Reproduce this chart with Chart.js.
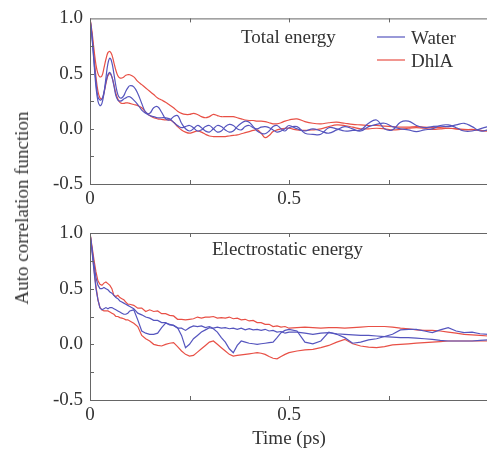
<!DOCTYPE html>
<html>
<head>
<meta charset="utf-8">
<script src="https://cdn.jsdelivr.net/npm/chart.js@4.4.0/dist/chart.umd.min.js"></script>
<style>
html, body { margin: 0; padding: 0; background: #fff; overflow: hidden; }
#wrap { position: relative; width: 487px; height: 454px; overflow: hidden; }
#wrap canvas { position: absolute; left: 0; }
#topChart { top: 0; }
#bottomChart { top: 208px; }
#ytitle {
    position: absolute; left: 22px; top: 208px;
    transform: translate(-50%, -50%) rotate(-90deg);
    font: 19px "Liberation Serif", serif; color: #333; white-space: nowrap;
}
</style>
</head>
<body>
<div id="wrap">
    <canvas id="topChart" width="492" height="208"></canvas>
    <canvas id="bottomChart" width="492" height="246"></canvas>
    <div id="ytitle">Auto correlation function</div>
</div>
<script>
// time axis (ps)
const time = [0, 0.005, 0.01, 0.015, 0.02, 0.025, 0.03, 0.035, 0.04, 0.045, 0.05, 0.055, 0.06, 0.065, 0.07, 0.075, 0.08, 0.085, 0.09, 0.095, 0.1,
    0.11, 0.12, 0.13, 0.14, 0.15, 0.16, 0.17, 0.18, 0.19, 0.2, 0.21, 0.22, 0.23, 0.24, 0.25, 0.26, 0.27, 0.28, 0.29, 0.3,
    0.31, 0.32, 0.33, 0.34, 0.35, 0.36, 0.37, 0.38, 0.39, 0.4, 0.41, 0.42, 0.43, 0.44, 0.45, 0.46, 0.47, 0.48, 0.49, 0.5,
    0.52, 0.54, 0.56, 0.58, 0.6, 0.62, 0.64, 0.66, 0.68, 0.7, 0.72, 0.74, 0.76, 0.78, 0.8, 0.82, 0.84, 0.86, 0.88, 0.9, 0.92, 0.94, 0.96, 0.98, 1.0];

// Total energy panel
const totalWater1 = [1.0, 0.83, 0.60, 0.38, 0.25, 0.21, 0.23, 0.32, 0.46, 0.59, 0.64, 0.60, 0.50, 0.39, 0.31, 0.28, 0.28, 0.30, 0.34, 0.37, 0.39,
    0.38, 0.32, 0.23, 0.15, 0.14, 0.19, 0.20, 0.15, 0.09, 0.08, 0.11, 0.12, 0.05, 0.0, -0.02, 0.0, 0.03, 0.01, -0.02, -0.03,
    0.0, 0.03, 0.02, -0.01, -0.03, -0.02, 0.02, 0.05, 0.07, 0.06, 0.02, -0.02, -0.04, -0.045, -0.02, 0.02, 0.03, 0.0, -0.02, 0.01,
    0.02, -0.04, -0.05, -0.05, 0.01, 0.0, -0.02, -0.015, -0.01, 0.05, 0.08, 0.0, -0.01, 0.06, 0.07, 0.03, 0.01, 0.02, 0.025, 0.02, 0.035, 0.05, 0.02, -0.02, -0.01];
const totalWater2 = [1.0, 0.84, 0.62, 0.42, 0.29, 0.26, 0.27, 0.33, 0.42, 0.49, 0.51, 0.47, 0.39, 0.30, 0.26, 0.25, 0.255, 0.27, 0.28, 0.29, 0.29,
    0.26, 0.22, 0.17, 0.14, 0.12, 0.11, 0.10, 0.10, 0.10, 0.09, 0.06, 0.03, 0.01, 0.02, 0.03, 0.01, -0.02, -0.01, 0.02, 0.03,
    0.0, -0.03, -0.02, 0.02, 0.04, 0.03, 0.0, -0.01, 0.02, 0.03, 0.01, 0.0, 0.015, 0.02, 0.01, -0.01, -0.03, -0.02, 0.0, 0.03,
    0.0, -0.02, 0.0, -0.02, -0.04, -0.01, 0.02, 0.0, -0.02, 0.02, 0.04, 0.05, 0.02, 0.0, -0.01, -0.025, -0.01, 0.0, 0.03, 0.035, 0.01, -0.02, -0.02, 0.0, 0.02];
const totalDhla1 = [1.0, 0.88, 0.72, 0.58, 0.50, 0.47, 0.48, 0.55, 0.63, 0.69, 0.70, 0.67, 0.60, 0.53, 0.48, 0.46, 0.46, 0.47, 0.485, 0.49, 0.49,
    0.47, 0.43, 0.40, 0.37, 0.34, 0.31, 0.28, 0.26, 0.24, 0.215, 0.19, 0.16, 0.14, 0.13, 0.13, 0.14, 0.13, 0.11, 0.10, 0.11,
    0.13, 0.12, 0.11, 0.11, 0.11, 0.11, 0.10, 0.09, 0.08, 0.075, 0.075, 0.07, 0.07, 0.065, 0.055, 0.045, 0.045, 0.055, 0.07, 0.08,
    0.09, 0.065, 0.05, 0.045, 0.055, 0.06, 0.05, 0.04, 0.035, 0.03, 0.03, 0.025, 0.02, 0.015, 0.015, 0.02, 0.015, 0.01, 0.01, 0.005, 0.0, -0.005, -0.01, -0.015, -0.02];
const totalDhla2 = [1.0, 0.85, 0.66, 0.47, 0.34, 0.28, 0.27, 0.32, 0.41, 0.48, 0.50, 0.47, 0.40, 0.32, 0.27, 0.24, 0.23, 0.23, 0.235, 0.235, 0.23,
    0.22, 0.21, 0.19, 0.15, 0.12, 0.10, 0.09, 0.085, 0.08, 0.08, 0.06, 0.02, -0.01, -0.03, -0.04, -0.03, -0.02, -0.03, -0.05, -0.065,
    -0.07, -0.07, -0.07, -0.07, -0.065, -0.06, -0.055, -0.045, -0.035, -0.025, -0.015, -0.01, -0.04, -0.08, -0.06, -0.025, -0.01, 0.0, 0.005, 0.005,
    -0.01, -0.015, -0.01, 0.0, 0.02, 0.035, 0.03, 0.015, 0.0, 0.0, 0.005, 0.0, -0.01, -0.005, 0.005, 0.01, 0.005, -0.005, 0.0, 0.005, 0.0, -0.01, -0.005, -0.015, -0.02];

// Electrostatic energy panel
const elecWater1 = [1.0, 0.86, 0.72, 0.60, 0.53, 0.50, 0.50, 0.51, 0.50, 0.49, 0.47, 0.46, 0.44, 0.42, 0.41, 0.39, 0.38, 0.37, 0.36, 0.35, 0.34,
    0.32, 0.28, 0.265, 0.245, 0.235, 0.215, 0.215, 0.195, 0.195, 0.175, 0.17, 0.145, 0.145, 0.125, 0.15, 0.165, 0.16, 0.165, 0.15, 0.16,
    0.145, 0.155, 0.145, 0.15, 0.14, 0.145, 0.135, 0.145, 0.13, 0.14, 0.13, 0.135, 0.125, 0.135, 0.12, 0.125, 0.11, 0.115, 0.10, 0.11,
    0.11, 0.10, 0.09, 0.10, 0.105, 0.095, 0.09, 0.085, 0.08, 0.08, 0.075, 0.07, 0.065, 0.06, 0.06, 0.055, 0.05, 0.045, 0.035, 0.03, 0.03, 0.03, 0.03, 0.035, 0.04];
const elecWater2 = [1.0, 0.84, 0.66, 0.50, 0.40, 0.33, 0.31, 0.32, 0.33, 0.32, 0.33, 0.33, 0.32, 0.31, 0.30, 0.29, 0.28, 0.27, 0.27, 0.28, 0.30,
    0.31, 0.22, 0.12, 0.10, 0.09, 0.09, 0.10, 0.15, 0.19, 0.18, 0.17, 0.15, 0.08, -0.03, 0.0, 0.05, 0.08, 0.11, 0.13, 0.15,
    0.14, 0.11, 0.06, 0.02, -0.04, -0.075, -0.01, 0.03, 0.02, 0.01, 0.005, 0.0, 0.005, 0.01, 0.015, 0.02, 0.06, 0.105, 0.125, 0.135,
    0.12, 0.02, 0.005, 0.03, 0.11, 0.09, 0.06, 0.01, 0.02, 0.04, 0.05, 0.07, 0.09, 0.13, 0.135, 0.135, 0.12, 0.105, 0.13, 0.15, 0.12, 0.105, 0.11, 0.095, 0.09];
const elecDhla1 = [1.0, 0.88, 0.76, 0.65, 0.57, 0.54, 0.53, 0.55, 0.56, 0.545, 0.53, 0.50, 0.44, 0.43, 0.44, 0.42, 0.41, 0.40, 0.38, 0.36, 0.36,
    0.35, 0.325, 0.325, 0.295, 0.31, 0.295, 0.30, 0.275, 0.275, 0.26, 0.255, 0.225, 0.225, 0.22, 0.225, 0.23, 0.245, 0.235, 0.245, 0.245,
    0.25, 0.235, 0.24, 0.235, 0.245, 0.23, 0.235, 0.22, 0.225, 0.21, 0.215, 0.195, 0.195, 0.18, 0.18, 0.16, 0.165, 0.155, 0.16, 0.145,
    0.15, 0.155, 0.15, 0.145, 0.15, 0.15, 0.145, 0.15, 0.155, 0.16, 0.16, 0.16, 0.155, 0.145, 0.14, 0.13, 0.125, 0.125, 0.12, 0.11, 0.10, 0.09, 0.085, 0.08, 0.075];
const elecDhla2 = [1.0, 0.85, 0.68, 0.52, 0.40, 0.33, 0.31, 0.30, 0.30, 0.30, 0.29, 0.28, 0.27, 0.25, 0.25, 0.24, 0.235, 0.23, 0.22, 0.22, 0.21,
    0.19, 0.16, 0.08, 0.05, 0.03, 0.0, -0.01, -0.015, 0.0, 0.01, 0.015, -0.02, -0.06, -0.09, -0.105, -0.10, -0.07, -0.04, -0.01, 0.02,
    0.03, 0.0, -0.03, -0.06, -0.09, -0.105, -0.10, -0.095, -0.09, -0.085, -0.08, -0.075, -0.08, -0.09, -0.11, -0.125, -0.13, -0.11, -0.09, -0.075,
    -0.06, -0.05, -0.045, -0.03, -0.01, 0.02, 0.045, 0.005, -0.015, -0.025, -0.03, -0.02, -0.005, 0.0, 0.005, 0.01, 0.015, 0.02, 0.025, 0.03, 0.03, 0.03, 0.03, 0.03, 0.03];

const xTickMarks = [0.25, 0.5, 0.75];
const yTickMarks = [-0.25, 0, 0.25, 0.5, 0.75];
const xLabels = { 0: '0', 0.5: '0.5' };
const legendNames = ['Water', 'DhlA'];

const BLUE = 'rgb(85, 85, 190)';
const RED = 'rgb(232, 80, 70)';
const TEXT = '#333';
const FONT = '"Liberation Serif", serif';

function toPoints(values) {
    return values.map((v, i) => ({ x: time[i], y: v }));
}

// frame, inward tick marks, panel label and legend
const decoPlugin = {
    id: 'deco',
    afterDatasetsDraw(chart, args, opts) {
        const { ctx, chartArea: a, scales: { x, y } } = chart;
        ctx.save();
        ctx.strokeStyle = '#666';
        ctx.lineWidth = 1;
        ctx.strokeRect(a.left + 0.5, a.top + 0.5, a.right - a.left, a.bottom - a.top);
        ctx.beginPath();
        xTickMarks.forEach(v => {
            const px = Math.round(x.getPixelForValue(v)) + 0.5;
            ctx.moveTo(px, a.bottom); ctx.lineTo(px, a.bottom - 4);
            ctx.moveTo(px, a.top); ctx.lineTo(px, a.top + 4);
        });
        yTickMarks.forEach(v => {
            const py = Math.round(y.getPixelForValue(v)) + 0.5;
            ctx.moveTo(a.left, py); ctx.lineTo(a.left + 4, py);
        });
        ctx.stroke();

        ctx.fillStyle = TEXT;
        ctx.font = '19px ' + FONT;
        ctx.textBaseline = 'alphabetic';
        ctx.fillText(opts.label, opts.labelX, opts.labelY);

        if (opts.legend) {
            [BLUE, RED].forEach((c, i) => {
                const ly = 37 + i * 23;
                ctx.strokeStyle = c;
                ctx.lineWidth = 1.2;
                ctx.beginPath();
                ctx.moveTo(377, ly); ctx.lineTo(405, ly);
                ctx.stroke();
                ctx.fillText(legendNames[i], 411, ly + 7);
            });
        }
        ctx.restore();
    }
};

function makeChart(id, series, padTop, xHeight, deco, showTitle, smooth) {
    const colors = [BLUE, BLUE, RED, RED];
    return new Chart(document.getElementById(id), {
        type: 'line',
        data: {
            datasets: series.map((s, i) => ({
                data: toPoints(s),
                borderColor: colors[i],
                borderWidth: 1.2,
                pointRadius: 0,
                tension: smooth ? 0.4 : 0,
                fill: false
            }))
        },
        options: {
            responsive: false,
            animation: false,
            devicePixelRatio: 1,
            layout: { padding: { top: padTop, left: 0, right: 0, bottom: 0 } },
            plugins: { legend: { display: false }, tooltip: { enabled: false }, deco: deco },
            scales: {
                x: {
                    type: 'linear', min: 0, max: 1,
                    afterFit: s => { s.height = xHeight; },
                    grid: { display: false, drawTicks: false },
                    border: { display: false },
                    ticks: {
                        stepSize: 0.25, padding: 4, maxRotation: 0, autoSkip: false,
                        color: TEXT, font: { family: FONT, size: 19 },
                        callback: v => xLabels[v] || ''
                    },
                    title: {
                        display: showTitle, text: 'Time (ps)', color: TEXT,
                        font: { family: FONT, size: 19 }, padding: { top: 0, bottom: 4 }
                    }
                },
                y: {
                    min: -0.5, max: 1.0,
                    afterFit: s => { s.width = 90; },
                    grid: { display: false, drawTicks: false },
                    border: { display: false },
                    ticks: {
                        stepSize: 0.5, padding: 7,
                        color: TEXT, font: { family: FONT, size: 19 },
                        callback: v => v.toFixed(1)
                    }
                }
            }
        },
        plugins: [decoPlugin]
    });
}

makeChart('topChart', [totalWater1, totalWater2, totalDhla1, totalDhla2], 18, 24,
    { label: 'Total energy', labelX: 241, labelY: 43, legend: true }, false, true);
makeChart('bottomChart', [elecWater1, elecWater2, elecDhla1, elecDhla2], 25, 54,
    { label: 'Electrostatic energy', labelX: 212, labelY: 47, legend: false }, true, false);
</script>
</body>
</html>
